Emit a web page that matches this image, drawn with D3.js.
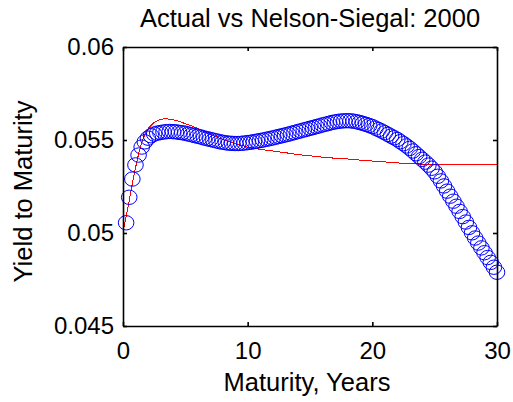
<!DOCTYPE html>
<html>
<head>
<meta charset="utf-8">
<script src="https://cdn.jsdelivr.net/npm/d3@7"></script>
<style>
  body { margin: 0; background: #fff; }
  text { font-family: Arial, "Liberation Sans", sans-serif; fill: #000; }
</style>
</head>
<body>
<div id="app"></div>
<script>
// actual yields (blue circles), quarterly maturities
const maturity = [
  0.25,0.5,0.75,1,1.25,1.5,1.75,2,2.25,2.5,2.75,3,3.25,3.5,3.75,4,4.25,4.5,4.75,5,
  5.25,5.5,5.75,6,6.25,6.5,6.75,7,7.25,7.5,7.75,8,8.25,8.5,8.75,9,9.25,9.5,9.75,10,
  10.25,10.5,10.75,11,11.25,11.5,11.75,12,12.25,12.5,12.75,13,13.25,13.5,13.75,14,14.25,14.5,14.75,15,
  15.25,15.5,15.75,16,16.25,16.5,16.75,17,17.25,17.5,17.75,18,18.25,18.5,18.75,19,19.25,19.5,19.75,20,
  20.25,20.5,20.75,21,21.25,21.5,21.75,22,22.25,22.5,22.75,23,23.25,23.5,23.75,24,24.25,24.5,24.75,25,
  25.25,25.5,25.75,26,26.25,26.5,26.75,27,27.25,27.5,27.75,28,28.25,28.5,28.75,29,29.25,29.5,29.75,30
];
const actual = [
  .05055,.05192,.05290,.05366,.05419,.05462,.05490,.05510,.05523,.05532,.05537,.05540,.05543,.05545,.05546,.05545,.05544,.05541,.05539,.05536,
  .05532,.05528,.05524,.05520,.05516,.05511,.05507,.05503,.05499,.05495,.05491,.05488,.05485,.05483,.05482,.05481,.05481,.05482,.05484,.05486,
  .05488,.05491,.05494,.05497,.05500,.05504,.05507,.05511,.05515,.05519,.05523,.05527,.05531,.05536,.05540,.05545,.05549,.05554,.05558,.05563,
  .05567,.05572,.05576,.05581,.05585,.05589,.05594,.05597,.05600,.05602,.05603,.05604,.05603,.05601,.05598,.05594,.05589,.05584,.05578,.05572,
  .05564,.05556,.05548,.05539,.05530,.05521,.05512,.05503,.05491,.05480,.05468,.05455,.05441,.05426,.05411,.05396,.05381,.05365,.05348,.05329,
  .05305,.05280,.05253,.05225,.05198,.05171,.05144,.05116,.05088,.05059,.05030,.05001,.04973,.04946,.04920,.04894,.04868,.04842,.04816,.04789
];

// Nelson-Siegel fit (red line)
const fitMaturity = [0,0.25,0.5,0.75,1,1.25,1.5,1.75,2,2.5,3,3.5,4,4.5,5,6,7,8,9,10,11,12,13,14,15,16,17,18,19,20,21,22,23,24,25,26,28,30];
const fitYield = [.05005,.05090,.05175,.05265,.05350,.05425,.05485,.05530,.05560,.05595,.05612,.05614,.05610,.05600,.05588,
  .05563,.05530,.05503,.05480,.05462,.05450,.05441,.05432,.05422,.05415,.05408,.05402,.05398,.05392,.05387,
  .05382,.05377,.05373,.05370,.05368,.05366,.05366,.05366];

const xTicks = [0, 10, 20, 30];
const yTicks = [0.045, 0.05, 0.055, 0.06];

const width = 513, height = 402;
const plotL = 123, plotR = 497, plotT = 47, plotB = 326;

const svg = d3.select('#app').append('svg')
  .attr('width', width)
  .attr('height', height);

const x = d3.scaleLinear().domain([0, 30]).range([plotL, plotR]);
const y = d3.scaleLinear().domain([0.045, 0.06]).range([plotB, plotT]);

// fit line
const line = d3.line()
  .x((d, i) => x(fitMaturity[i]))
  .y(d => y(d));

svg.append('path')
  .datum(fitYield)
  .attr('d', line)
  .attr('fill', 'none')
  .attr('stroke', '#ff0000')
  .attr('stroke-width', 1)
  .attr('shape-rendering', 'crispEdges');

// actual yields
svg.append('g')
  .selectAll('ellipse')
  .data(actual)
  .enter()
  .append('ellipse')
    .attr('cx', (d, i) => x(maturity[i]))
    .attr('cy', d => y(d))
    .attr('rx', 7.8)
    .attr('ry', 7.2)
    .attr('fill', 'none')
    .attr('stroke', '#0000ff')
    .attr('stroke-width', 1);

// box + inward ticks (matlab style)
const tickLen = 4;
const axisG = svg.append('g');

axisG.append('g')
  .attr('transform', `translate(0,${plotB})`)
  .call(d3.axisBottom(x).tickValues(xTicks).tickSizeInner(-tickLen).tickSizeOuter(0).tickPadding(16).tickFormat(d3.format('d')));
axisG.append('g')
  .attr('transform', `translate(0,${plotT})`)
  .call(d3.axisTop(x).tickValues(xTicks).tickSizeInner(-tickLen).tickSizeOuter(0).tickFormat(''));
axisG.append('g')
  .attr('transform', `translate(${plotL},0)`)
  .call(d3.axisLeft(y).tickValues(yTicks).tickSizeInner(-tickLen).tickSizeOuter(0).tickPadding(9).tickFormat(d => String(+d.toFixed(3))));
axisG.append('g')
  .attr('transform', `translate(${plotR},0)`)
  .call(d3.axisRight(y).tickValues(yTicks).tickSizeInner(-tickLen).tickSizeOuter(0).tickFormat(''));

axisG.selectAll('.domain, .tick line')
  .attr('stroke', '#000')
  .attr('stroke-width', 1.6);
axisG.selectAll('.tick text')
  .style('font-size', '24px')
  .attr('fill', '#000');

// titles
svg.append('text')
  .attr('x', (plotL + plotR) / 2)
  .attr('y', 27)
  .attr('text-anchor', 'middle')
  .style('font-size', '25.5px')
  .text('Actual vs Nelson-Siegal: 2000');

svg.append('text')
  .attr('x', 307)
  .attr('y', 391)
  .attr('text-anchor', 'middle')
  .style('font-size', '25.5px')
  .text('Maturity, Years');

svg.append('text')
  .attr('transform', `translate(32,${(plotT + plotB) / 2 + 5}) rotate(-90)`)
  .attr('text-anchor', 'middle')
  .style('font-size', '25.5px')
  .text('Yield to Maturity');
</script>
</body>
</html>
